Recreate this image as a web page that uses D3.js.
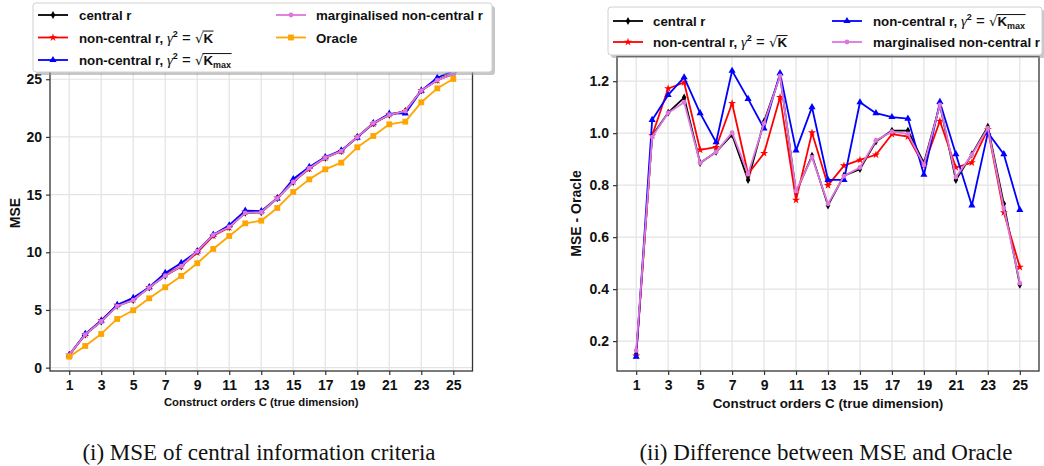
<!DOCTYPE html>
<html><head><meta charset="utf-8">
<script src="https://cdn.jsdelivr.net/npm/d3@7"></script>
<style>body{margin:0;background:#fff}svg{display:block}text{white-space:pre}</style>
</head><body>
<svg id="chart" width="1044" height="466"></svg>
<script>
// ---------- data ----------
const orders = d3.range(1, 26);
const xTicks = [1,3,5,7,9,11,13,15,17,19,21,23,25];
const yTicksLeft = [0,5,10,15,20,25];
const yTicksRight = [0.2,0.4,0.6,0.8,1.0,1.2];

// (i) MSE
const mseCentral = [1.10,2.87,4.00,5.36,5.86,6.94,7.96,8.77,10.10,11.51,12.18,13.42,13.46,14.68,16.09,17.29,18.20,18.78,19.99,21.19,21.91,22.24,24.03,24.94,25.44];
const mseNcK     = [1.09,2.87,4.09,5.42,5.91,6.96,8.09,8.79,9.97,11.43,12.15,13.51,13.54,14.72,16.13,17.24,18.19,18.76,19.98,21.13,21.96,22.21,24.02,24.91,25.51];
const mseNcKmax  = [1.09,2.93,4.07,5.44,6.05,6.98,8.21,9.08,10.07,11.52,12.34,13.61,13.56,14.66,16.35,17.40,18.25,18.83,19.94,21.20,22.01,22.04,24.00,25.13,25.73];
const mseMarg    = [1.11,2.87,4.00,5.34,5.86,6.94,7.97,8.79,10.09,11.51,12.19,13.42,13.47,14.68,16.10,17.29,18.20,18.77,19.98,21.19,21.92,22.24,24.02,24.92,25.44];
const mseOracle  = [0.95,1.88,2.92,4.22,4.97,6.01,6.97,7.95,9.05,10.29,11.41,12.51,12.74,13.84,15.23,16.32,17.19,17.77,19.10,20.08,21.09,21.32,23.00,24.21,25.02];

// (ii) MSE - Oracle
const diffCentral = [0.150,0.990,1.079,1.137,0.885,0.928,0.994,0.820,1.045,1.222,0.772,0.913,0.722,0.837,0.862,0.968,1.010,1.010,0.885,1.109,0.820,0.919,1.025,0.728,0.417];
const diffNcK     = [0.143,0.991,1.172,1.195,0.936,0.946,1.115,0.843,0.923,1.138,0.743,1.002,0.799,0.875,0.897,0.917,0.996,0.987,0.875,1.047,0.868,0.887,1.015,0.695,0.485];
const diffNcKmax  = [0.140,1.051,1.147,1.215,1.077,0.965,1.240,1.132,1.018,1.231,0.934,1.100,0.820,0.820,1.119,1.077,1.062,1.056,0.840,1.120,0.919,0.722,1.002,0.919,0.705];
const diffMarg    = [0.164,0.985,1.078,1.119,0.885,0.928,1.002,0.843,1.038,1.220,0.777,0.908,0.728,0.835,0.868,0.972,1.006,0.997,0.878,1.109,0.831,0.917,1.019,0.712,0.423];

const xLabel = "Construct orders C (true dimension)";
const captionLeft = "(i) MSE of central information criteria";
const captionRight = "(ii) Difference between MSE and Oracle";

// ---------- styles ----------
const SANS = "'Liberation Sans', Arial, sans-serif";
const SERIF = "'Liberation Serif', 'DejaVu Serif', serif";
const styles = {
  central: {color:"#000000", symbol:d3.symbolDiamond, size:18},
  nck:     {color:"#ff0000", symbol:d3.symbolStar, size:20},
  nckmax:  {color:"#0000ff", symbol:d3.symbolTriangle, size:22},
  marg:    {color:"#dd77dd", symbol:d3.symbolCircle, size:18},
  oracle:  {color:"#ffa500", symbol:d3.symbolSquare, size:34}
};
// legend label segments
const labels = {
  central: [{t:"central r"}],
  nck: [{t:"non-central r, "},{t:"γ",italic:true,family:SERIF,weight:"normal",size:15},{t:"2",dy:-6,size:9},{t:" = ",weight:"normal",size:15},{t:"√",weight:"normal",family:"'DejaVu Sans'"},{t:"K",over:true}],
  nckmax: [{t:"non-central r, "},{t:"γ",italic:true,family:SERIF,weight:"normal",size:15},{t:"2",dy:-6,size:9},{t:" = ",weight:"normal",size:15},{t:"√",weight:"normal",family:"'DejaVu Sans'"},{t:"K",over:true},{t:"max",dy:3,size:9,over:true}],
  marg: [{t:"marginalised non-central r"}],
  oracle: [{t:"Oracle"}]
};

const svg = d3.select("#chart");

function richText(g, x, y, segs, fs) {
  let cx = x;
  let ox0 = null, ox1 = null;
  segs.forEach(s => {
    const t = g.append("text").attr("x", cx).attr("y", y + (s.dy||0))
      .attr("font-size", s.size||fs).attr("font-weight", s.weight||"bold")
      .attr("font-style", s.italic ? "italic" : "normal")
      .attr("font-family", s.family||SANS).attr("fill","#111").text(s.t);
    const w = t.node().getComputedTextLength();
    if (s.over) { if (ox0===null) ox0 = cx; ox1 = cx + w; }
    cx += w;
  });
  if (ox0 !== null) {
    g.append("line").attr("x1", ox0-1).attr("x2", ox1+0.5)
      .attr("y1", y - fs*0.86).attr("y2", y - fs*0.86)
      .attr("stroke","#111").attr("stroke-width",1);
  }
}

function drawPanel(cfg) {
  const g = svg.append("g");
  const x = d3.scaleLinear().domain([-0.2, 26.2]).range([cfg.x0, cfg.x1]);
  const y = d3.scaleLinear().domain(cfg.yDomain).range([371, 56.5]);

  // grid
  g.append("g").selectAll("line").data(xTicks).join("line")
    .attr("x1", d=>x(d)).attr("x2", d=>x(d)).attr("y1", 56.5).attr("y2", 371)
    .attr("stroke","#e3e3e3").attr("stroke-width",1.2);
  g.append("g").selectAll("line").data(cfg.yTicks).join("line")
    .attr("x1", cfg.x0).attr("x2", cfg.x1).attr("y1", d=>y(d)).attr("y2", d=>y(d))
    .attr("stroke","#e3e3e3").attr("stroke-width",1.2);

  // series
  cfg.series.forEach(s => {
    const st = styles[s.key];
    const pts = orders.map((c,i)=>[c, s.values[i]]);
    g.append("path").datum(pts)
      .attr("d", d3.line().x(d=>x(d[0])).y(d=>y(d[1])))
      .attr("fill","none").attr("stroke", st.color).attr("stroke-width",1.8)
      .attr("stroke-linejoin","round");
    g.append("g").selectAll("path").data(pts).join("path")
      .attr("transform", d=>`translate(${x(d[0])},${y(d[1])})`)
      .attr("d", d3.symbol().type(st.symbol).size(st.size))
      .attr("fill", st.color);
  });

  // axes
  const xa = g.append("g").attr("transform","translate(0,371)")
    .call(d3.axisBottom(x).tickValues(xTicks).tickSize(4).tickPadding(5).tickFormat(d3.format("d")));
  const ya = g.append("g").attr("transform",`translate(${cfg.x0},0)`)
    .call(d3.axisLeft(y).tickValues(cfg.yTicks).tickSize(4).tickPadding(4).tickFormat(cfg.tickFmt));
  [xa, ya].forEach(a => {
    a.select(".domain").remove();
    a.selectAll(".tick line").attr("stroke","#333").attr("stroke-width",1.2);
    a.selectAll(".tick text").attr("font-family",SANS).attr("font-weight","bold")
      .attr("font-size",14).attr("fill","#111");
  });
  // spines
  g.append("rect").attr("x",cfg.x0).attr("y",56.5).attr("width",cfg.x1-cfg.x0).attr("height",371-56.5)
    .attr("fill","none").attr("stroke","#333").attr("stroke-width",1.3);

  // axis titles
  g.append("text").attr("x",(cfg.x0+cfg.x1)/2).attr("y",cfg.xlY).attr("text-anchor","middle")
    .attr("font-family",SANS).attr("font-weight","bold").attr("font-size",cfg.xlSize).attr("fill","#111")
    .text(xLabel);
  g.append("text").attr("transform",`translate(${cfg.ylX},${cfg.ylY}) rotate(-90)`).attr("text-anchor","middle")
    .attr("font-family",SANS).attr("font-weight","bold").attr("font-size",cfg.ylSize).attr("fill","#111")
    .text(cfg.yLabel);

  // legend
  const L = cfg.legend;
  const lg = svg.append("g");
  lg.append("rect").attr("x",L.x+3).attr("y",L.y+3).attr("width",L.w).attr("height",L.h)
    .attr("rx",3).attr("fill","#999").attr("opacity",0.55);
  lg.append("rect").attr("x",L.x).attr("y",L.y).attr("width",L.w).attr("height",L.h)
    .attr("rx",3).attr("fill","#fff").attr("stroke","#d0d0d0").attr("stroke-width",1);
  L.items.forEach(it => {
    const st = styles[it.key];
    lg.append("line").attr("x1",it.lx).attr("x2",it.lx+30).attr("y1",it.y).attr("y2",it.y)
      .attr("stroke",st.color).attr("stroke-width",1.8);
    lg.append("path").attr("transform",`translate(${it.lx+15},${it.y})`)
      .attr("d", d3.symbol().type(st.symbol).size(st.size)).attr("fill",st.color);
    richText(lg, it.tx, it.y+5, labels[it.key], 13.3);
  });

  // caption
  svg.append("text").attr("x",cfg.capX).attr("y",460).attr("text-anchor","middle")
    .attr("font-family",SERIF).attr("font-size",23).attr("fill","#111").text(cfg.caption);
}

drawPanel({
  x0:50, x1:472.5, yDomain:[-0.29, 26.97], yTicks:yTicksLeft, tickFmt:d3.format("d"),
  yLabel:"MSE", ylX:20, ylY:213, ylSize:14, xlSize:11.3, xlY:406,
  caption:captionLeft, capX:259,
  series:[{key:"central",values:mseCentral},{key:"nck",values:mseNcK},{key:"nckmax",values:mseNcKmax},
          {key:"marg",values:mseMarg},{key:"oracle",values:mseOracle}],
  legend:{x:33,y:3,w:459,h:69,items:[
    {key:"central",lx:38,tx:79,y:15},{key:"nck",lx:38,tx:79,y:37.5},{key:"nckmax",lx:38,tx:79,y:60},
    {key:"marg",lx:276,tx:316,y:15},{key:"oracle",lx:276,tx:316,y:37.5}]}
});

drawPanel({
  x0:617, x1:1039, yDomain:[0.085, 1.295], yTicks:yTicksRight, tickFmt:d3.format(".1f"),
  yLabel:"MSE - Oracle", ylX:581, ylY:213.5, ylSize:14, xlSize:13.4, xlY:407.5,
  caption:captionRight, capX:826,
  series:[{key:"central",values:diffCentral},{key:"nck",values:diffNcK},{key:"nckmax",values:diffNcKmax},
          {key:"marg",values:diffMarg}],
  legend:{x:608,y:7,w:434,h:48,items:[
    {key:"central",lx:613,tx:653,y:21},{key:"nck",lx:613,tx:653,y:42},
    {key:"nckmax",lx:832,tx:873,y:21},{key:"marg",lx:832,tx:873,y:42}]}
});
</script>
</body></html>
